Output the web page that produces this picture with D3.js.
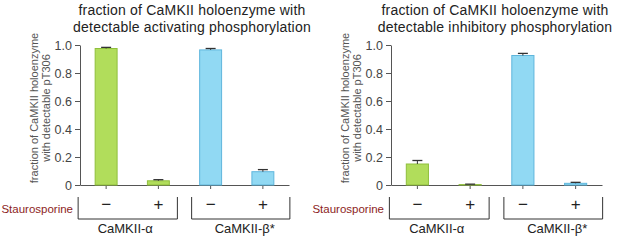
<!DOCTYPE html>
<html>
<head>
<meta charset="utf-8">
<script src="https://cdn.jsdelivr.net/npm/d3@7/dist/d3.min.js"></script>
<style>
  body { margin: 0; background: #fff; }
  svg { display: block; font-family: "Liberation Sans", Arial, sans-serif; }
</style>
</head>
<body>
<svg id="chart" width="617" height="240"></svg>
<script>
// data
var categories = ['CaMKII-α', 'CaMKII-β*'];
var treatments = ['−', '+', '−', '+'];
var barGroups = [0, 0, 1, 1];
var activatingValues = [0.975, 0.03, 0.965, 0.095];
var activatingErrors = [0.008, 0.008, 0.01, 0.015];
var inhibitoryValues = [0.15, 0.003, 0.925, 0.012];
var inhibitoryErrors = [0.025, 0.003, 0.015, 0.007];
var yTicks = [0, 0.2, 0.4, 0.6, 0.8, 1.0];
var yTickLabels = ['0', '0.2', '0.4', '0.6', '0.8', '1.0'];
var titles = [
  ['fraction of CaMKII holoenzyme with', 'detectable activating phosphorylation'],
  ['fraction of CaMKII holoenzyme with', 'detectable inhibitory phosphorylation']
];
var yLabel = ['fraction of CaMKII holoenzyme', 'with detectable pT306'];
var treatmentName = 'Staurosporine';

var fills = ['#b1dd5b', '#91d9f3'];
var strokes = ['#8fbf3c', '#5fb6dc'];

var svg = d3.select('#chart');

function drawPanel(opts) {
  var x0 = opts.left;
  var x1 = opts.right;
  var top = 45;
  var bottom = 185;

  var x = d3.scaleBand()
    .domain(d3.range(opts.values.length))
    .range([x0, x1])
    .paddingInner(0.58)
    .paddingOuter(0.29);
  var y = d3.scaleLinear().domain([0, 1]).range([bottom, top]);

  var g = svg.append('g').attr('class', 'panel');

  // title
  g.append('text')
    .attr('x', opts.titleX)
    .attr('y', 15)
    .attr('text-anchor', 'middle')
    .attr('font-size', 14)
    .attr('letter-spacing', 0.2)
    .attr('fill', '#222')
    .selectAll('tspan')
    .data(opts.title)
    .enter()
    .append('tspan')
    .attr('x', opts.titleX)
    .attr('dy', function (d, i) { return i ? 17 : 0; })
    .text(String);

  // y label (two rotated lines)
  g.append('g')
    .attr('transform', 'translate(' + (x0 - 42) + ',108) rotate(-90)')
    .selectAll('text')
    .data(yLabel)
    .enter()
    .append('text')
    .attr('x', 0)
    .attr('y', function (d, i) { return i * 12; })
    .attr('text-anchor', 'middle')
    .attr('font-size', 11)
    .attr('fill', '#555')
    .text(String);

  // y axis
  var yAxis = d3.axisLeft(y)
    .tickValues(yTicks)
    .tickFormat(function (d, i) { return yTickLabels[i]; })
    .tickSize(5)
    .tickPadding(3)
    .tickSizeOuter(0);
  var ya = g.append('g')
    .attr('class', 'axis y')
    .attr('transform', 'translate(' + x0 + ',0)')
    .call(yAxis);
  ya.selectAll('path, line').attr('stroke', '#555');
  ya.selectAll('text')
    .attr('font-size', 12.5)
    .attr('font-family', '"Liberation Sans", Arial, sans-serif')
    .attr('fill', '#444');

  // x axis
  var xAxis = d3.axisBottom(x)
    .tickSize(4)
    .tickSizeOuter(0)
    .tickFormat('');
  var xa = g.append('g')
    .attr('class', 'axis x')
    .attr('transform', 'translate(0,' + bottom + ')')
    .call(xAxis);
  xa.selectAll('path, line').attr('stroke', '#555');

  // bars
  g.selectAll('rect.bar')
    .data(opts.values)
    .enter()
    .append('rect')
    .attr('class', 'bar')
    .attr('x', function (d, i) { return x(i); })
    .attr('y', function (d) { return y(d); })
    .attr('width', x.bandwidth())
    .attr('height', function (d) { return bottom - y(d); })
    .attr('fill', function (d, i) { return fills[barGroups[i]]; })
    .attr('stroke', function (d, i) { return strokes[barGroups[i]]; })
    .attr('stroke-width', 1);

  // error bars (upper only)
  var err = g.append('g').attr('class', 'errors')
    .selectAll('g')
    .data(opts.values)
    .enter()
    .append('g');
  err.append('line')
    .attr('x1', function (d, i) { return x(i) + x.bandwidth() / 2; })
    .attr('x2', function (d, i) { return x(i) + x.bandwidth() / 2; })
    .attr('y1', function (d) { return y(d); })
    .attr('y2', function (d, i) { return y(d + opts.errors[i]); })
    .attr('stroke', '#333');
  err.append('line')
    .attr('x1', function (d, i) { return x(i) + x.bandwidth() / 2 - 5; })
    .attr('x2', function (d, i) { return x(i) + x.bandwidth() / 2 + 5; })
    .attr('y1', function (d, i) { return y(d + opts.errors[i]); })
    .attr('y2', function (d, i) { return y(d + opts.errors[i]); })
    .attr('stroke', '#333')
    .attr('stroke-width', 1.3);

  // treatment row
  g.append('text')
    .attr('x', x0 - 7)
    .attr('y', 213)
    .attr('text-anchor', 'end')
    .attr('font-size', 11.5)
    .attr('fill', '#8c1d1d')
    .text(treatmentName);

  g.selectAll('text.treat')
    .data(treatments)
    .enter()
    .append('text')
    .attr('class', 'treat')
    .attr('x', function (d, i) { return x(i) + x.bandwidth() / 2; })
    .attr('y', 210)
    .attr('text-anchor', 'middle')
    .attr('font-size', 17)
    .attr('fill', '#222')
    .text(String);

  // group brackets
  var groups = categories.map(function (c, k) {
    var idx = barGroups.map(function (b, i) { return b === k ? i : -1; }).filter(function (i) { return i >= 0; });
    var first = x(idx[0]) + x.bandwidth() / 2;
    var last = x(idx[idx.length - 1]) + x.bandwidth() / 2;
    var lpad = k === 0 ? 28 : 19;
    var rpad = k === 0 ? 19 : 27;
    // labels sit a little off the bar midpoint, toward the outer side
    var shift = k === 0 ? -7 : 8;
    return { name: c, x0: first - lpad, x1: last + rpad, mid: (first + last) / 2 + shift };
  });

  g.selectAll('path.bracket')
    .data(groups)
    .enter()
    .append('path')
    .attr('class', 'bracket')
    .attr('d', function (d) {
      return 'M' + d.x0 + ',197V219H' + d.x1 + 'V197';
    })
    .attr('fill', 'none')
    .attr('stroke', '#333')
    .attr('stroke-width', 1);

  g.selectAll('text.group')
    .data(groups)
    .enter()
    .append('text')
    .attr('class', 'group')
    .attr('x', function (d) { return d.mid; })
    .attr('y', 233)
    .attr('text-anchor', 'middle')
    .attr('font-size', 13)
    .attr('fill', '#222')
    .text(function (d) { return d.name; });
}

drawPanel({
  left: 80, right: 289, titleX: 192,
  title: titles[0], values: activatingValues, errors: activatingErrors
});
drawPanel({
  left: 391, right: 602, titleX: 495,
  title: titles[1], values: inhibitoryValues, errors: inhibitoryErrors
});
</script>
</body>
</html>
